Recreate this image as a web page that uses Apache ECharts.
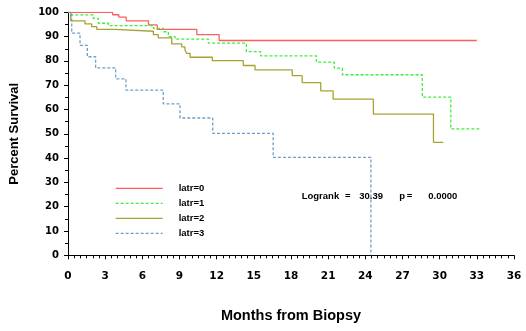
<!DOCTYPE html>
<html><head><meta charset="utf-8">
<script src="https://cdn.jsdelivr.net/npm/echarts@6/dist/echarts.min.js"></script>
<style>html,body{margin:0;padding:0;background:#fff}#c{width:526px;height:331px}</style>
</head><body><div id="c"></div>
<script>
// Kaplan-Meier step points [month, percent surviving]
const latr0 = [[0,100],[3.6,99.0],[4.1,98.0],[4.7,96.5],[6.5,94.8],[7.2,93.0],[10.4,90.8],[12.2,88.4],[33.0,88.4]];
const latr1 = [[0,100],[0.22,98.9],[2.04,97.5],[2.45,95.5],[3.26,94.5],[6.89,93.4],[7.7,92.0],[8.1,90.0],[8.64,89.0],[11.33,87.3],[14.4,83.8],[15.55,82.1],[20.05,79.5],[21.5,77.0],[22.15,74.3],[28.6,65.1],[30.9,52.0],[33.2,52.0]];
const latr2 = [[0,100],[0.22,96.5],[1.37,95.2],[1.91,94.1],[2.32,93.0],[3.79,92.2],[6.89,90.8],[7.29,89.5],[8.37,87.0],[9.18,85.8],[9.44,84.5],[9.58,83.1],[9.85,81.5],[11.65,80.1],[14.15,78.1],[15.1,76.3],[18.1,73.9],[18.9,71.1],[20.4,67.7],[21.4,64.3],[24.65,58.1],[29.5,46.5],[30.3,46.5]];
const latr3 = [[0,100],[0.3,91.4],[0.97,86.4],[1.56,81.7],[2.23,77.1],[3.85,72.6],[4.68,68.0],[7.69,62.3],[9.04,56.5],[11.68,50.2],[16.56,40.3],[24.45,0]];
const seriesNames = ['latr=0','latr=1','latr=2','latr=3'];
const xTickStep = 3;
const statTexts = ['Logrank','=','30.39','p','=','0.0000'];

const chart = echarts.init(document.getElementById('c'), null, {renderer:'canvas'});
const labelFont = {color:'#000', fontFamily:'DejaVu Sans', fontWeight:'bold'};
const nameFont = {color:'#000', fontFamily:'Liberation Sans', fontWeight:'bold'};
const colors = ['#ff5e5e','#3cee3c','#a8a232','#6e9fcc'];
const dashes = ['solid',[3,2],'solid',[3,2]];
const datasets = [latr0, latr1, latr2, latr3];
const statX = [301.7,345,359.3,399.3,406.7,428.3];

chart.setOption({
  animation:false,
  grid:{left:68, right:12, top:12.3, bottom:75.7},
  xAxis:{type:'value', min:0, max:36, interval:xTickStep, offset:5,
    name:'Months from Biopsy', nameLocation:'middle', nameGap:48,
    nameTextStyle:Object.assign({fontSize:14.5}, nameFont),
    axisLine:{lineStyle:{color:'#000', width:1}},
    axisTick:{length:4, lineStyle:{color:'#000'}},
    minorTick:{show:true, splitNumber:6, length:3, lineStyle:{color:'#000'}},
    axisLabel:Object.assign({fontSize:10.5, margin:10}, labelFont),
    splitLine:{show:false}},
  yAxis:{type:'value', min:0, max:100, interval:10, offset:4,
    name:'Percent Survival', nameLocation:'middle', nameGap:43, nameRotate:90,
    nameTextStyle:Object.assign({fontSize:13}, nameFont),
    axisLine:{show:true, lineStyle:{color:'#000', width:1}},
    axisTick:{show:true, length:4, lineStyle:{color:'#000'}},
    minorTick:{show:true, splitNumber:2, length:3, lineStyle:{color:'#000'}},
    axisLabel:Object.assign({fontSize:10, margin:5}, labelFont),
    splitLine:{show:false}},
  legend:{orient:'vertical', left:110, top:178.3, itemWidth:47, itemHeight:10, itemGap:5,
    data:seriesNames,
    itemStyle:{opacity:0},
    lineStyle:{width:1.3},
    textStyle:Object.assign({fontSize:9.5, lineHeight:10, padding:[0,0,0,11]}, nameFont)},
  series: datasets.map((d,i)=>({
    name:seriesNames[i], type:'line', step:'end', data:d, symbol:'none', showSymbol:false,
    lineStyle:{color:colors[i], width:1.3, type:dashes[i]}, itemStyle:{color:colors[i]}
  })),
  graphic: statTexts.map((t,i)=>({type:'text', left:statX[i], top:191.5,
    style:{text:t, fill:'#000', font:'bold 9.5px "Liberation Sans"'}}))
});
</script></body></html>
